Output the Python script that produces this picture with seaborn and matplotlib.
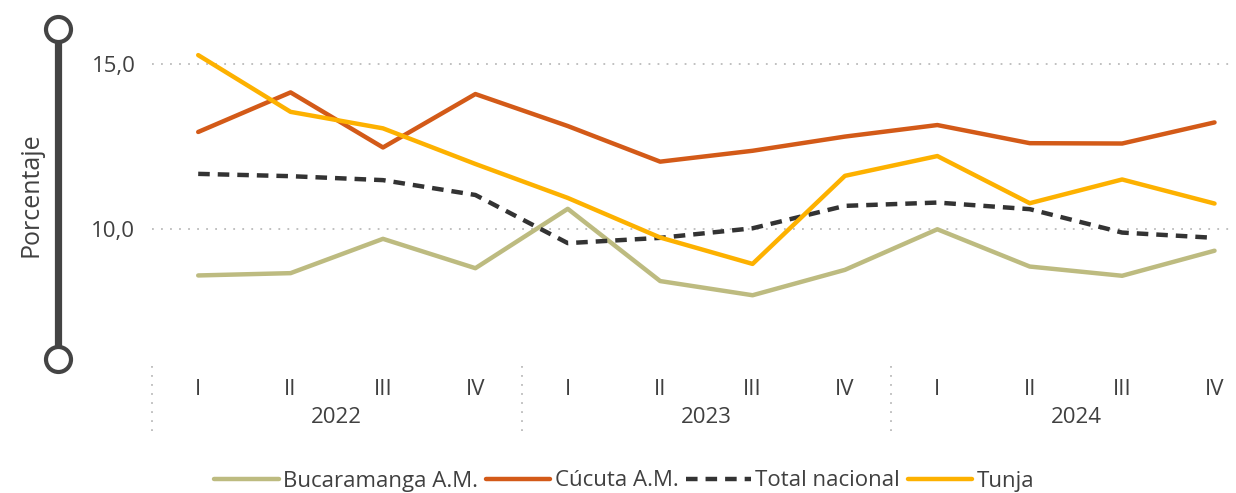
import numpy as np
import pandas as pd
import seaborn as sns
import matplotlib.pyplot as plt
from matplotlib.lines import Line2D
from matplotlib.ticker import FuncFormatter

# Quarterly rates (%) by city, 2022-2024
years = ["2022", "2023", "2024"]
quarters = ["I", "II", "III", "IV"]

bucaramanga = [8.59, 8.66, 9.70, 8.81, 10.61, 8.42, 7.99, 8.76, 9.99, 8.86, 8.58, 9.34]
cucuta = [12.94, 14.14, 12.47, 14.09, 13.12, 12.04, 12.37, 12.80, 13.15, 12.60, 12.59, 13.23]
total_nacional = [11.67, 11.60, 11.48, 11.03, 9.57, 9.73, 10.02, 10.70, 10.80, 10.60, 9.89, 9.73]
tunja = [15.27, 13.55, 13.05, 11.97, 10.94, 9.74, 8.94, 11.61, 12.21, 10.78, 11.50, 10.77]

series_names = ["Bucaramanga A.M.", "Cúcuta A.M.", "Total nacional", "Tunja"]
series_values = [bucaramanga, cucuta, total_nacional, tunja]
colors = ["#BDBB80", "#D35A18", "#333333", "#FDB100"]

n = len(years) * len(quarters)
df = pd.DataFrame({
    "idx": np.tile(np.arange(n), len(series_names)),
    "valor": np.concatenate(series_values),
    "serie": np.repeat(series_names, n),
})

sns.set_theme(style="white")
plt.rcParams["font.family"] = ["Open Sans", "DejaVu Sans"]
text_color = "#404040"

fig = plt.figure(figsize=(12.36, 4.93), dpi=100)
W, H = 1236, 493
ax_left, ax_right, ax_top, ax_bottom = 152, 1233, 35, 350
ax = fig.add_axes([ax_left / W, 1 - ax_bottom / H,
                   (ax_right - ax_left) / W, (ax_bottom - ax_top) / H])

palette = dict(zip(series_names, colors))
dash_pattern = (2.6, 1.8)
dashes = {s: "" for s in series_names}
dashes["Total nacional"] = dash_pattern
sns.lineplot(data=df, x="idx", y="valor", hue="serie", style="serie",
             palette=palette, dashes=dashes, linewidth=3.2, ax=ax,
             legend=False)

ax.set_xlim(-0.5, 11.2)
ax.set_ylim(6.33, 15.88)
ax.set_yticks([10, 15])
ax.yaxis.set_major_formatter(FuncFormatter(lambda v, p: f"{v:.1f}".replace(".", ",")))
ax.grid(axis="y", color="#BBBBBB", linestyle=(0, (1, 4)), linewidth=1.3)
ax.grid(axis="x", visible=False)
for s in ax.spines.values():
    s.set_visible(False)
ax.tick_params(axis="y", length=0, pad=12, labelsize=16, labelcolor=text_color)
ax.set_xticks(range(n))
ax.set_xticklabels(quarters * len(years))
ax.tick_params(axis="x", length=0, pad=21, labelsize=16, labelcolor=text_color)
ax.set_xlabel("")
ax.set_ylabel("")

# Year labels and group separators below the axis
trans = ax.get_xaxis_transform()
for i, yr in enumerate(years):
    ax.text(i * 4 + 1.5, -0.215, yr, transform=trans, ha="center", va="center",
            fontsize=16, color=text_color, clip_on=False)
for sep in [-0.5, 3.5, 7.5]:
    ax.add_line(Line2D([sep, sep], [-0.05, -0.27], transform=trans,
                       color="#BBBBBB", linestyle=(0, (1, 4)), linewidth=1.3,
                       clip_on=False))

# Decorative axis-title bar
bar_x = 58 / W
fig.add_artist(Line2D([bar_x, bar_x], [1 - 29 / H, 1 - 359 / H],
                      transform=fig.transFigure, color="#444444",
                      linewidth=5.2, solid_capstyle="butt"))
for yy in [29, 359]:
    fig.add_artist(Line2D([bar_x], [1 - yy / H], transform=fig.transFigure,
                          marker="o", markersize=18, markerfacecolor="white",
                          markeredgecolor="#444444", markeredgewidth=3))
fig.text(31 / W, 1 - 195 / H, "Porcentaje", rotation=90, ha="center",
         va="center", fontsize=18, color=text_color)

# Legend
handles = [Line2D([], [], color=c, linewidth=3.2,
                  linestyle=(0, dash_pattern) if s == "Total nacional" else "-")
           for s, c in zip(series_names, colors)]
fig.legend(handles, series_names, loc="center", bbox_to_anchor=(0.505, 1 - 481 / H),
           ncol=4, frameon=False, fontsize=16, handlelength=2.9,
           handletextpad=0.2, columnspacing=0.35, labelcolor=text_color)

fig.savefig("out.png", dpi=100)
